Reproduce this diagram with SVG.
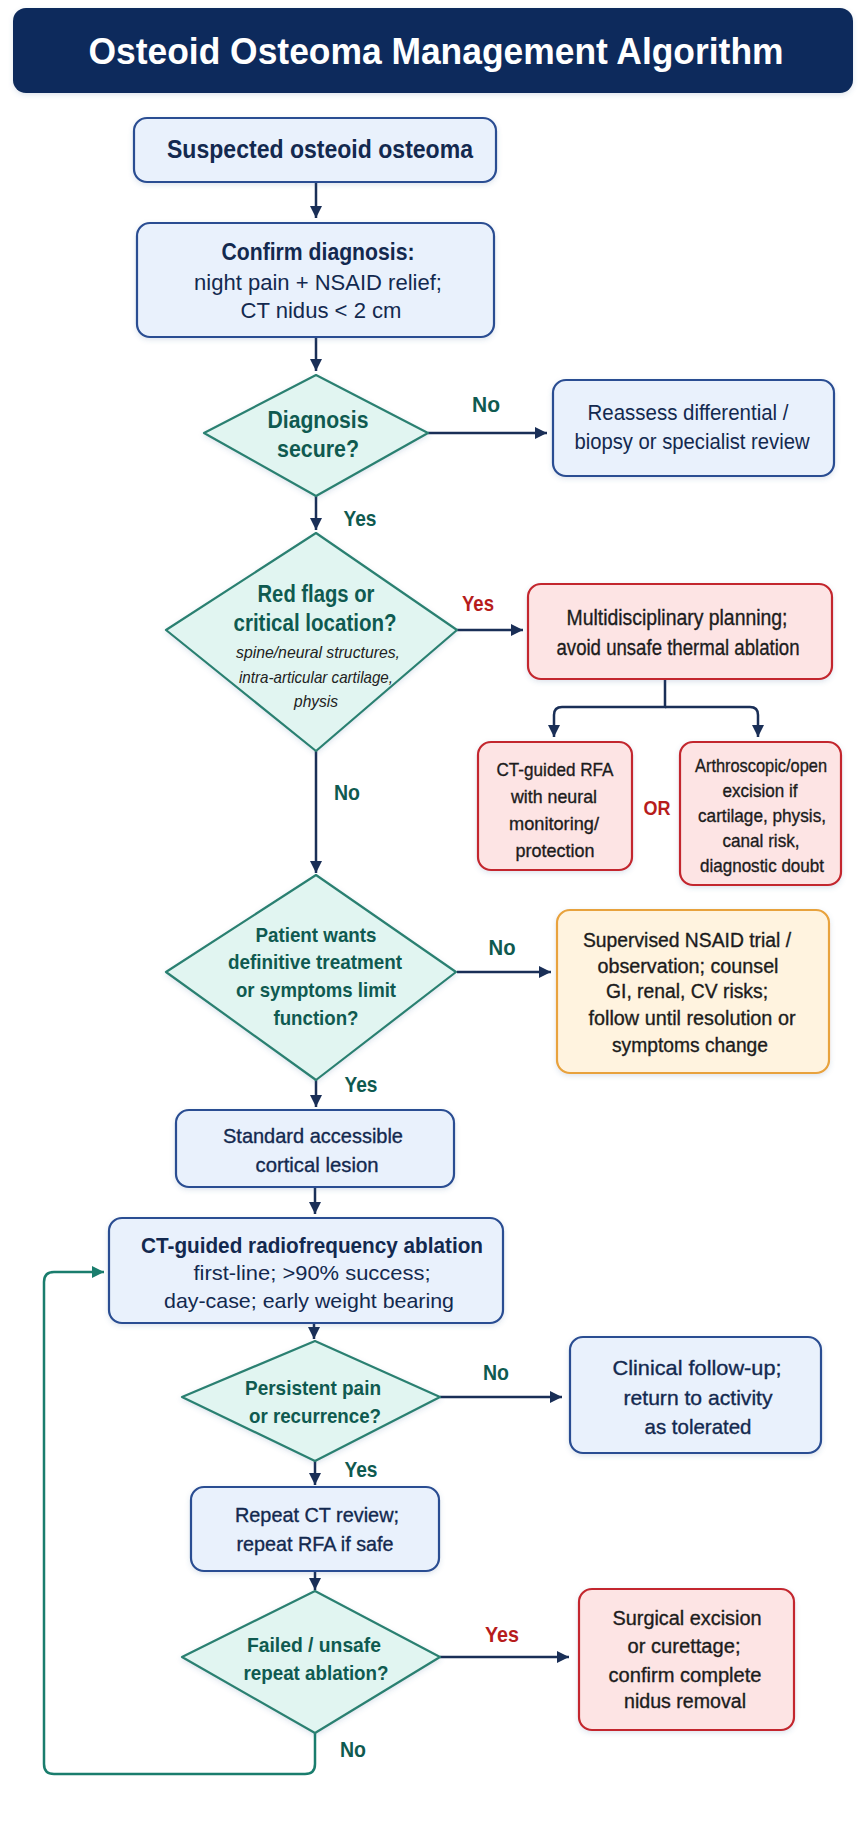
<svg xmlns="http://www.w3.org/2000/svg" width="864" height="1821" viewBox="0 0 864 1821">
<defs>
<style>
text{font-family:"Liberation Sans",Arial,sans-serif;text-anchor:middle}
.b{font-weight:bold}
.navy{fill:#13294f}
.teal{fill:#0f5a50;font-weight:bold}
.red{fill:#b71c1c;font-weight:bold}
.dark{fill:#1c1c1c}
.med{stroke-width:0.35}
.it{font-style:italic;fill:#222}
.blue{fill:#e9f1fc;stroke:#2a4d92;stroke-width:2.2}
.dia{fill:#e1f5f1;stroke:#2a8071;stroke-width:2.2;stroke-linejoin:round}
.rbox{fill:#fde4e4;stroke:#c3282d;stroke-width:2.2}
.obox{fill:#fff3df;stroke:#e8a23c;stroke-width:2.2}
.ln{fill:none;stroke:#1a2f57;stroke-width:2.5}
.lt{fill:none;stroke:#1a7d6d;stroke-width:2.5}
</style>
<marker id="ah" viewBox="0 0 10 10" refX="10" refY="5" markerUnits="userSpaceOnUse" markerWidth="12" markerHeight="14" orient="auto">
<path d="M0,0 L10,5 L0,10 z" fill="#1a2f57"/>
</marker>
<marker id="aht" viewBox="0 0 10 10" refX="10" refY="5" markerUnits="userSpaceOnUse" markerWidth="12" markerHeight="16" orient="auto">
<path d="M0,0 L10,5 L0,10 z" fill="#1a7d6d"/>
</marker>
<filter id="sh" x="-10%" y="-10%" width="120%" height="130%">
<feDropShadow dx="0" dy="2" stdDeviation="2.5" flood-color="#4a6a9a" flood-opacity="0.18"/>
</filter>
</defs>
<rect x="0" y="0" width="864" height="1821" fill="#ffffff"/>

<g id="title">
<rect x="13" y="8" width="840" height="85" rx="13" fill="#0f2b5b" filter="url(#sh)"/>
<text x="436" y="64" class="b" font-size="37" fill="#ffffff" textLength="695" lengthAdjust="spacingAndGlyphs">Osteoid Osteoma Management Algorithm</text>
</g>

<g id="connectors">
<path class="ln" d="M316,182 V218" marker-end="url(#ah)"/>
<path class="ln" d="M316,337 V371" marker-end="url(#ah)"/>
<path class="ln" d="M428,433 H547" marker-end="url(#ah)"/>
<path class="ln" d="M316,496 V530" marker-end="url(#ah)"/>
<path class="ln" d="M457,630 H523" marker-end="url(#ah)"/>
<path class="ln" d="M665,679 V707 H562 Q554,707 554,715 V737" marker-end="url(#ah)"/>
<path class="ln" d="M665,707 H750 Q758,707 758,715 V737" marker-end="url(#ah)"/>
<path class="ln" d="M316,751 V873" marker-end="url(#ah)"/>
<path class="ln" d="M457,972 H551" marker-end="url(#ah)"/>
<path class="ln" d="M316,1080 V1107" marker-end="url(#ah)"/>
<path class="ln" d="M315,1187 V1214" marker-end="url(#ah)"/>
<path class="ln" d="M314,1323 V1339" marker-end="url(#ah)"/>
<path class="ln" d="M440,1397 H562" marker-end="url(#ah)"/>
<path class="ln" d="M315,1461 V1485" marker-end="url(#ah)"/>
<path class="ln" d="M315,1571 V1590" marker-end="url(#ah)"/>
<path class="ln" d="M440,1657 H569" marker-end="url(#ah)"/>
<path class="lt" d="M315,1733 V1764 Q315,1774 305,1774 H54 Q44,1774 44,1764 V1282 Q44,1272 54,1272 H104" marker-end="url(#aht)"/>
<text x="486" y="412" class="teal" font-size="22" textLength="28" lengthAdjust="spacingAndGlyphs">No</text>
<text x="360" y="526" class="teal" font-size="22" textLength="33" lengthAdjust="spacingAndGlyphs">Yes</text>
<text x="478" y="611" class="red" font-size="22" textLength="32" lengthAdjust="spacingAndGlyphs">Yes</text>
<text x="657" y="815" class="red" font-size="21" textLength="27" lengthAdjust="spacingAndGlyphs">OR</text>
<text x="347" y="800" class="teal" font-size="22" textLength="26" lengthAdjust="spacingAndGlyphs">No</text>
<text x="502" y="955" class="teal" font-size="22" textLength="27" lengthAdjust="spacingAndGlyphs">No</text>
<text x="361" y="1092" class="teal" font-size="22" textLength="33" lengthAdjust="spacingAndGlyphs">Yes</text>
<text x="496" y="1380" class="teal" font-size="22" textLength="26" lengthAdjust="spacingAndGlyphs">No</text>
<text x="361" y="1477" class="teal" font-size="22" textLength="33" lengthAdjust="spacingAndGlyphs">Yes</text>
<text x="502" y="1642" class="red" font-size="22" textLength="34" lengthAdjust="spacingAndGlyphs">Yes</text>
<text x="353" y="1757" class="teal" font-size="22" textLength="26" lengthAdjust="spacingAndGlyphs">No</text>
</g>

<g id="n_suspected">
<rect class="blue" x="134" y="118" width="362" height="64" rx="13" filter="url(#sh)"/>
<text x="320" y="158" class="b navy" font-size="26" textLength="306" lengthAdjust="spacingAndGlyphs">Suspected osteoid osteoma</text>
</g>

<g id="n_confirm">
<rect class="blue" x="137" y="223" width="357" height="114" rx="13" filter="url(#sh)"/>
<text x="318" y="260" class="b navy" font-size="23" textLength="193" lengthAdjust="spacingAndGlyphs">Confirm diagnosis:</text>
<text x="318" y="290" class="navy" font-size="22" textLength="248" lengthAdjust="spacingAndGlyphs">night pain + NSAID relief;</text>
<text x="321" y="318" class="navy" font-size="22" textLength="161" lengthAdjust="spacingAndGlyphs">CT nidus &lt; 2 cm</text>
</g>

<g id="d_secure">
<polygon class="dia" points="316,375 428,433 316,496 204,433" filter="url(#sh)"/>
<text x="318" y="428" class="teal" font-size="23" textLength="101" lengthAdjust="spacingAndGlyphs">Diagnosis</text>
<text x="318" y="457" class="teal" font-size="23" textLength="82" lengthAdjust="spacingAndGlyphs">secure?</text>
</g>

<g id="n_reassess">
<rect class="blue" x="553" y="380" width="281" height="96" rx="13" filter="url(#sh)"/>
<text x="688" y="420" class="navy" font-size="22" textLength="201" lengthAdjust="spacingAndGlyphs">Reassess differential /</text>
<text x="692" y="449" class="navy" font-size="22" textLength="235" lengthAdjust="spacingAndGlyphs">biopsy or specialist review</text>
</g>

<g id="d_redflags">
<polygon class="dia" points="316,533 457,630 316,751 166,630" filter="url(#sh)"/>
<text x="316" y="602" class="teal" font-size="23" textLength="117" lengthAdjust="spacingAndGlyphs">Red flags or</text>
<text x="315" y="631" class="teal" font-size="23" textLength="163" lengthAdjust="spacingAndGlyphs">critical location?</text>
<text x="318" y="658" class="it" font-size="17" textLength="164" lengthAdjust="spacingAndGlyphs">spine/neural structures,</text>
<text x="316" y="683" class="it" font-size="17" textLength="154" lengthAdjust="spacingAndGlyphs">intra-articular cartilage,</text>
<text x="316" y="707" class="it" font-size="17" textLength="44" lengthAdjust="spacingAndGlyphs">physis</text>
</g>

<g id="n_mdt">
<rect class="rbox" x="528" y="584" width="304" height="95" rx="13" filter="url(#sh)"/>
<text x="677" y="625" class="dark med" stroke="#1c1c1c" font-size="22" textLength="221" lengthAdjust="spacingAndGlyphs">Multidisciplinary planning;</text>
<text x="678" y="655" class="dark med" stroke="#1c1c1c" font-size="22" textLength="243" lengthAdjust="spacingAndGlyphs">avoid unsafe thermal ablation</text>
</g>

<g id="n_rfa_neural">
<rect class="rbox" x="478" y="742" width="154" height="128" rx="13" filter="url(#sh)"/>
<text x="555" y="776" class="dark med" stroke="#1c1c1c" font-size="19" textLength="117" lengthAdjust="spacingAndGlyphs">CT-guided RFA</text>
<text x="554" y="803" class="dark med" stroke="#1c1c1c" font-size="19" textLength="86" lengthAdjust="spacingAndGlyphs">with neural</text>
<text x="554" y="830" class="dark med" stroke="#1c1c1c" font-size="19" textLength="90" lengthAdjust="spacingAndGlyphs">monitoring/</text>
<text x="555" y="857" class="dark med" stroke="#1c1c1c" font-size="19" textLength="79" lengthAdjust="spacingAndGlyphs">protection</text>
</g>

<g id="n_arthro">
<rect class="rbox" x="680" y="742" width="161" height="143" rx="13" filter="url(#sh)"/>
<text x="761" y="772" class="dark med" stroke="#1c1c1c" font-size="19" textLength="132" lengthAdjust="spacingAndGlyphs">Arthroscopic/open</text>
<text x="760" y="797" class="dark med" stroke="#1c1c1c" font-size="19" textLength="75" lengthAdjust="spacingAndGlyphs">excision if</text>
<text x="762" y="822" class="dark med" stroke="#1c1c1c" font-size="19" textLength="128" lengthAdjust="spacingAndGlyphs">cartilage, physis,</text>
<text x="761" y="847" class="dark med" stroke="#1c1c1c" font-size="19" textLength="77" lengthAdjust="spacingAndGlyphs">canal risk,</text>
<text x="762" y="872" class="dark med" stroke="#1c1c1c" font-size="19" textLength="124" lengthAdjust="spacingAndGlyphs">diagnostic doubt</text>
</g>

<g id="d_patient">
<polygon class="dia" points="316,875 456,972 316,1080 166,972" filter="url(#sh)"/>
<text x="316" y="942" class="teal" font-size="21" textLength="121" lengthAdjust="spacingAndGlyphs">Patient wants</text>
<text x="315" y="969" class="teal" font-size="21" textLength="174" lengthAdjust="spacingAndGlyphs">definitive treatment</text>
<text x="316" y="997" class="teal" font-size="21" textLength="160" lengthAdjust="spacingAndGlyphs">or symptoms limit</text>
<text x="316" y="1025" class="teal" font-size="21" textLength="85" lengthAdjust="spacingAndGlyphs">function?</text>
</g>

<g id="n_nsaid">
<rect class="obox" x="557" y="910" width="272" height="163" rx="13" filter="url(#sh)"/>
<text x="687" y="947" class="dark med" stroke="#1c1c1c" font-size="20" textLength="208" lengthAdjust="spacingAndGlyphs">Supervised NSAID trial /</text>
<text x="688" y="973" class="dark med" stroke="#1c1c1c" font-size="20" textLength="181" lengthAdjust="spacingAndGlyphs">observation; counsel</text>
<text x="687" y="998" class="dark med" stroke="#1c1c1c" font-size="20" textLength="162" lengthAdjust="spacingAndGlyphs">GI, renal, CV risks;</text>
<text x="692" y="1025" class="dark med" stroke="#1c1c1c" font-size="20" textLength="207" lengthAdjust="spacingAndGlyphs">follow until resolution or</text>
<text x="690" y="1052" class="dark med" stroke="#1c1c1c" font-size="20" textLength="156" lengthAdjust="spacingAndGlyphs">symptoms change</text>
</g>

<g id="n_standard">
<rect class="blue" x="176" y="1110" width="278" height="77" rx="13" filter="url(#sh)"/>
<text x="313" y="1143" class="navy med" stroke="#13294f" font-size="21" textLength="180" lengthAdjust="spacingAndGlyphs">Standard accessible</text>
<text x="317" y="1172" class="navy med" stroke="#13294f" font-size="21" textLength="123" lengthAdjust="spacingAndGlyphs">cortical lesion</text>
</g>

<g id="n_ctrfa">
<rect class="blue" x="109" y="1218" width="394" height="105" rx="13" filter="url(#sh)"/>
<text x="312" y="1253" class="b navy" font-size="22" textLength="342" lengthAdjust="spacingAndGlyphs">CT-guided radiofrequency ablation</text>
<text x="312" y="1280" class="navy" font-size="21" textLength="237" lengthAdjust="spacingAndGlyphs">first-line; &gt;90% success;</text>
<text x="309" y="1308" class="navy" font-size="21" textLength="290" lengthAdjust="spacingAndGlyphs">day-case; early weight bearing</text>
</g>

<g id="d_persistent">
<polygon class="dia" points="315,1341 440,1397 315,1461 182,1397" filter="url(#sh)"/>
<text x="313" y="1395" class="teal" font-size="21" textLength="136" lengthAdjust="spacingAndGlyphs">Persistent pain</text>
<text x="315" y="1423" class="teal" font-size="21" textLength="132" lengthAdjust="spacingAndGlyphs">or recurrence?</text>
</g>

<g id="n_followup">
<rect class="blue" x="570" y="1337" width="251" height="116" rx="13" filter="url(#sh)"/>
<text x="697" y="1375" class="navy med" stroke="#13294f" font-size="21" textLength="169" lengthAdjust="spacingAndGlyphs">Clinical follow-up;</text>
<text x="698" y="1405" class="navy med" stroke="#13294f" font-size="21" textLength="149" lengthAdjust="spacingAndGlyphs">return to activity</text>
<text x="698" y="1434" class="navy med" stroke="#13294f" font-size="21" textLength="107" lengthAdjust="spacingAndGlyphs">as tolerated</text>
</g>

<g id="n_repeat">
<rect class="blue" x="191" y="1487" width="248" height="84" rx="13" filter="url(#sh)"/>
<text x="317" y="1522" class="navy med" stroke="#13294f" font-size="21" textLength="164" lengthAdjust="spacingAndGlyphs">Repeat CT review;</text>
<text x="315" y="1551" class="navy med" stroke="#13294f" font-size="21" textLength="157" lengthAdjust="spacingAndGlyphs">repeat RFA if safe</text>
</g>

<g id="d_failed">
<polygon class="dia" points="315,1591 440,1657 315,1733 182,1657" filter="url(#sh)"/>
<text x="314" y="1652" class="teal" font-size="21" textLength="134" lengthAdjust="spacingAndGlyphs">Failed / unsafe</text>
<text x="316" y="1680" class="teal" font-size="21" textLength="145" lengthAdjust="spacingAndGlyphs">repeat ablation?</text>
</g>

<g id="n_surgical">
<rect class="rbox" x="579" y="1589" width="215" height="141" rx="13" filter="url(#sh)"/>
<text x="687" y="1625" class="dark med" stroke="#1c1c1c" font-size="20" textLength="149" lengthAdjust="spacingAndGlyphs">Surgical excision</text>
<text x="684" y="1653" class="dark med" stroke="#1c1c1c" font-size="20" textLength="113" lengthAdjust="spacingAndGlyphs">or curettage;</text>
<text x="685" y="1682" class="dark med" stroke="#1c1c1c" font-size="20" textLength="153" lengthAdjust="spacingAndGlyphs">confirm complete</text>
<text x="685" y="1708" class="dark med" stroke="#1c1c1c" font-size="20" textLength="122" lengthAdjust="spacingAndGlyphs">nidus removal</text>
</g>
</svg>
